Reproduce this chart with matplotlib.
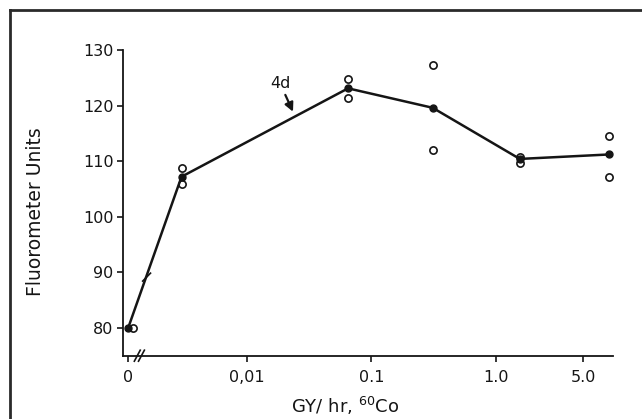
import matplotlib
matplotlib.use("Agg")
import matplotlib.pyplot as plt
import matplotlib.transforms as mtransforms
from matplotlib.lines import Line2D
from matplotlib.ticker import FixedLocator, FixedFormatter, NullLocator

# dose rate (Gy/hr, 60Co); 0 = unirradiated control
dose = [0, 0.003, 0.065, 0.31, 1.55, 8.0]
mean_units = [80.0, 107.2, 123.1, 119.6, 110.4, 111.2]

# individual replicates (open circles)
rep_dose = [0, 0.003, 0.003, 0.065, 0.065, 0.31, 0.31, 1.55, 1.55, 8.0, 8.0]
rep_units = [80.0, 108.7, 105.8, 124.7, 121.4, 127.3, 112.0, 110.7, 109.6, 114.5, 107.2]

x_ticks = [0, 0.01, 0.1, 1.0, 5.0]
x_tick_labels = ["0", "0,01", "0.1", "1.0", "5.0"]
y_ticks = [80, 90, 100, 110, 120, 130]

ZERO_POS = 0.00112  # where dose 0 sits on the broken log axis
INK = "#151515"


def xpos(vals):
    return [ZERO_POS if v == 0 else v for v in vals]


fig = plt.figure(figsize=(6.42, 4.19), dpi=100)
ax = fig.add_axes([0.1921, 0.1511, 0.7627, 0.7296])
ax.set_xscale("log")
ax.set_xlim(0.001024, 8.66)
ax.set_ylim(75, 130)

# open circles: replicates
zero_shift = mtransforms.offset_copy(ax.transData, fig=fig, x=5, y=0, units="dots")
rx = xpos(rep_dose)
for x, y, d in zip(rx, rep_units, rep_dose):
    ax.plot([x], [y], "o", ms=5.2, mfc="white", mec=INK, mew=1.2, zorder=3,
            transform=zero_shift if d == 0 else ax.transData)

# mean line with filled points
ax.plot(xpos(dose), mean_units, "-o", color=INK, lw=1.8, ms=5, zorder=4)

# arrow at 4d
ax.annotate("4d", xy=(0.0235, 118.9), xytext=(0.0185, 124.0),
            ha="center", va="center", fontsize=11.5, color=INK,
            arrowprops=dict(arrowstyle="-|>", color=INK, lw=1.6,
                            mutation_scale=13, shrinkA=1, shrinkB=0))

# axes styling
for side in ("top", "right"):
    ax.spines[side].set_visible(False)
for side in ("left", "bottom"):
    ax.spines[side].set_linewidth(1.3)
    ax.spines[side].set_color(INK)

ax.xaxis.set_major_locator(FixedLocator(xpos(x_ticks)))
ax.xaxis.set_major_formatter(FixedFormatter(x_tick_labels))
ax.xaxis.set_minor_locator(NullLocator())
ax.set_yticks(y_ticks)
ax.tick_params(axis="both", direction="out", length=4, width=1.2,
               labelsize=11.5, colors=INK, pad=3)
ax.tick_params(axis="x", pad=6)

# axis break marks
brk = dict(transform=ax.transAxes, color=INK, lw=1.2, clip_on=False, zorder=5)
for bx in (0.0285, 0.037):
    ax.plot([bx - 0.006, bx + 0.006], [-0.018, 0.018], **brk)
ax.plot([0.0395, 0.0555], [0.244, 0.270], **brk)

ax.set_ylabel("Fluorometer Units", fontsize=13.5, color=INK)
ax.yaxis.set_label_coords(-0.16, 0.47)
fig.text(345 / 642, 1 - 406 / 419, r"GY/ hr, $^{60}$Co", ha="center", va="center",
         fontsize=13, color=INK)

# scanned-page frame
frame = dict(color="#2a2a2a", lw=2.0, transform=fig.transFigure)
fig.add_artist(Line2D([10 / 642, 10 / 642], [0, 1 - 10 / 419], **frame))
fig.add_artist(Line2D([10 / 642, 1], [1 - 10 / 419, 1 - 10 / 419], **frame))

fig.savefig("out.png", dpi=100)
